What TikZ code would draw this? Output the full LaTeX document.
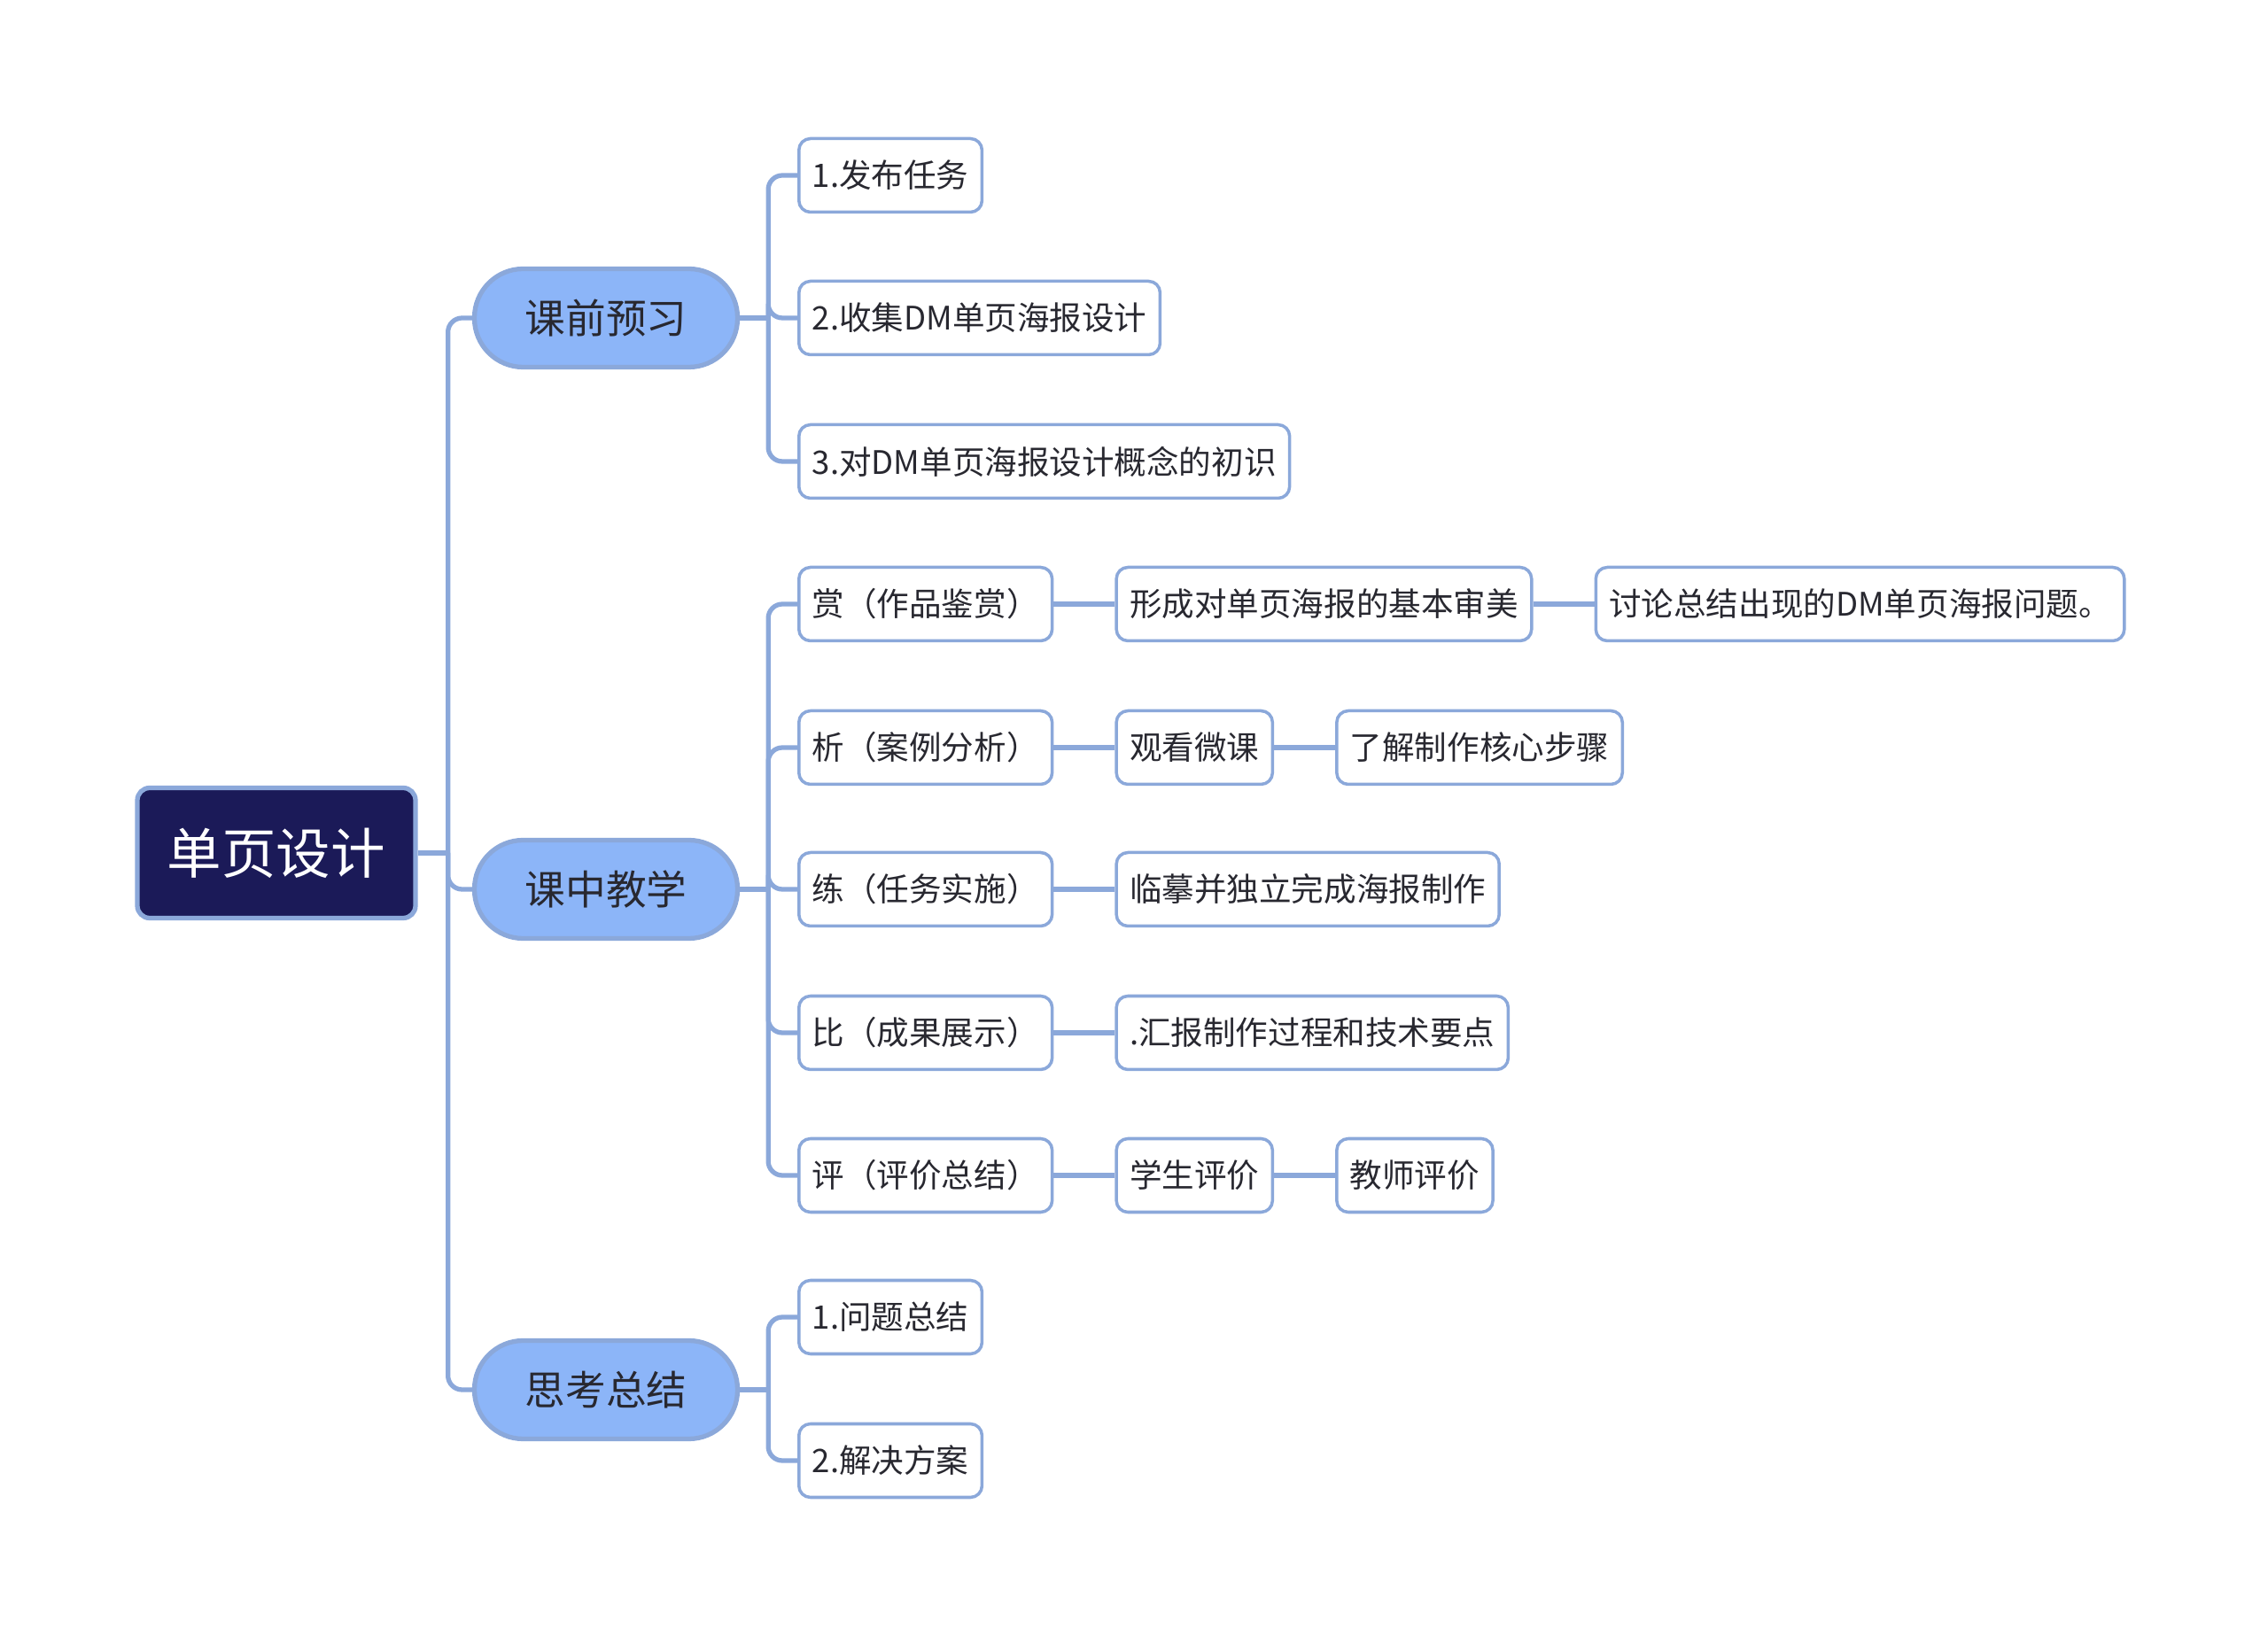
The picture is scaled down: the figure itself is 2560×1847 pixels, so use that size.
\documentclass[tikz,border=0pt]{standalone}
\usepackage{fontspec}
\setmainfont{Noto Sans CJK SC}
\usetikzlibrary{positioning}
\definecolor{rootnavy}{RGB}{27,26,88}
\definecolor{edgeblue}{RGB}{139,168,218}
\definecolor{topicblue}{RGB}{140,181,248}
\definecolor{inkgray}{RGB}{40,40,48}

\begin{document}
\begin{tikzpicture}[
          x=0.1mm, y=-0.1mm,
          root/.style={
              draw=edgeblue,
              fill=rootnavy,
              text=white,
              line width=1.5pt,
              rounded corners=1.4mm,
              minimum width=31.4mm,
              minimum height=14.7mm,
              font=\fontsize{17.5}{20}\selectfont
            },
          topic/.style={
              draw=edgeblue,
              fill=topicblue,
              text=inkgray,
              line width=1.5pt,
              rounded corners=5.5mm,
              minimum width=29.7mm,
              minimum height=11.1mm,
              font=\fontsize{13}{16}\selectfont
            },
          leaf/.style={
              draw=edgeblue,
              fill=white,
              text=inkgray,
              line width=1.0pt,
              rounded corners=1.3mm,
              minimum height=8.3mm,
              inner xsep=1.5mm,
              anchor=west,
              font=\fontsize{10.4}{12}\selectfont
            },
          link/.style={draw=edgeblue, line width=1.5pt, rounded corners=1.6mm},
          node distance=6.9mm
        ]
        \useasboundingbox (0,0) rectangle (2560,1847);

        \node[root] (root) at (312,963) {单页设计};

        \node[topic] (pre) at (684,359) {课前预习};
        \node[topic] (mid) at (684,1004) {课中教学};
        \node[topic] (post) at (684,1569) {思考总结};

        % 课前预习
        \node[leaf] (pre1) at (900,198) {1.发布任务};
        \node[leaf] (pre2) at (900,359) {2.收集DM单页海报设计};
        \node[leaf] (pre3) at (900,521) {3.对DM单页海报设计概念的初识};

        % 课中教学
        \node[leaf] (shang) at (900,682) {赏（作品鉴赏）};
        \node[leaf, right=of shang] (shangA) {形成对单页海报的基本审美};
        \node[leaf, right=of shangA] (shangB) {讨论总结出现的DM单页海报问题。};
        \node[leaf] (xi) at (900,844) {析（案例分析）};
        \node[leaf, right=of xi] (xiA) {观看微课};
        \node[leaf, right=of xiA] (xiB) {了解制作核心步骤};
        \node[leaf] (lian) at (900,1004) {练（任务实施）};
        \node[leaf, right=of lian] (lianA) {临摹并独立完成海报制作};
        \node[leaf] (bi) at (900,1166) {比（成果展示）};
        \node[leaf, right=of bi] (biA) {.汇报制作过程和技术要点};
        \node[leaf] (ping) at (900,1327) {评（评价总结）};
        \node[leaf, right=of ping] (pingA) {学生评价};
        \node[leaf, right=of pingA] (pingB) {教师评价};

        % 思考总结
        \node[leaf] (post1) at (900,1487) {1.问题总结};
        \node[leaf] (post2) at (900,1649) {2.解决方案};

        % connectors
        \draw[link] (root.east) -- ++(34,0) coordinate (trunk);
        \foreach \t in {pre, mid, post}
          \draw[link] (trunk) |- (\t.west);

        \draw[link] (pre.east) -- ++(32,0) coordinate (preJ);
        \foreach \l in {pre1, pre2, pre3}
          \draw[link] (preJ) |- (\l.west);

        \draw[link] (mid.east) -- ++(32,0) coordinate (midJ);
        \foreach \l in {shang, xi, lian, bi, ping}
          \draw[link] (midJ) |- (\l.west);

        \draw[link] (post.east) -- ++(32,0) coordinate (postJ);
        \foreach \l in {post1, post2}
          \draw[link] (postJ) |- (\l.west);

        \draw[link] (shang) -- (shangA);
        \draw[link] (shangA) -- (shangB);
        \draw[link] (xi) -- (xiA);
        \draw[link] (xiA) -- (xiB);
        \draw[link] (lian) -- (lianA);
        \draw[link] (bi) -- (biA);
        \draw[link] (ping) -- (pingA);
        \draw[link] (pingA) -- (pingB);
      \end{tikzpicture}
\end{document}
